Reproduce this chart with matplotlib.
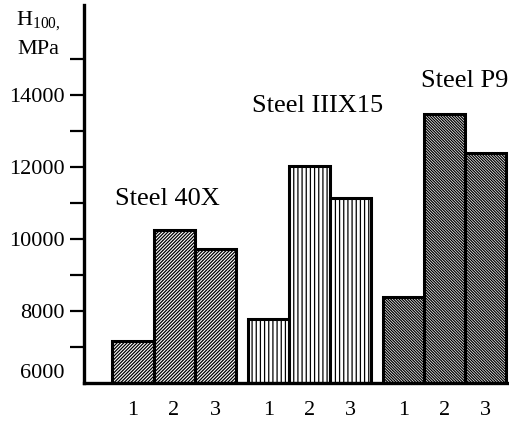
import matplotlib.pyplot as plt
from matplotlib.ticker import FixedLocator

plt.rcParams['font.family'] = ['Liberation Serif', 'DejaVu Serif']
plt.rcParams['mathtext.fontset'] = 'custom'
plt.rcParams['mathtext.rm'] = 'Liberation Serif'
plt.rcParams['hatch.linewidth'] = 0.9

# data
steels = ['Steel 40X', 'Steel IIIX15', 'Steel P9']
hardness = [
    [7170, 10250, 9720],
    [7780, 12030, 11150],
    [8400, 13470, 12400],
]
bar_labels = ['1', '2', '3']
hatches = ['/' * 10, '||||', '\\' * 12]
label_pos = [(0.83, 11110), (4.49, 13690), (8.1, 14390)]
group_step = 3.3

fig = plt.figure(figsize=(5.09, 4.21), dpi=100)
ax = fig.add_axes([84 / 509, 38 / 421, 425 / 509, 378 / 421])

xs, xl = [], []
for g, vals in enumerate(hardness):
    x = [g * group_step + i for i in range(len(vals))]
    ax.bar(x, [v - 6000 for v in vals], bottom=6000, width=1.0,
           color='white', edgecolor='black', linewidth=2.2,
           hatch=hatches[g])
    xs += x
    xl += bar_labels
    ax.text(label_pos[g][0], label_pos[g][1], steels[g], ha='center',
            va='center', fontsize=19)

ax.set_xlim(-1.195, 9.17)
ax.set_ylim(6000, 16500)

ax.set_xticks(xs)
ax.set_xticklabels(xl, fontsize=16)
ax.tick_params(axis='x', length=0, pad=13)

ax.set_yticks([6000, 8000, 10000, 12000, 14000])
ax.set_yticklabels(['6000', '8000', '10000', '12000', '14000'], fontsize=16)
ax.yaxis.set_minor_locator(FixedLocator([7000, 9000, 11000, 13000, 15000]))
ax.tick_params(axis='y', which='both', length=10, width=1.6, pad=4)
first = ax.yaxis.get_major_ticks()[0]
first.tick1line.set_visible(False)
first.label1.set_va('bottom')

for s in ['top', 'right']:
    ax.spines[s].set_visible(False)
for s in ['left', 'bottom']:
    ax.spines[s].set_linewidth(2.4)

fig.text(38 / 509, 1 - 21 / 421, r'H$_{100,}$', ha='center', va='center',
         fontsize=16)
fig.text(38 / 509, 1 - 50 / 421, 'MPa', ha='center', va='center',
         fontsize=16)

fig.savefig('out.png', dpi=100)
